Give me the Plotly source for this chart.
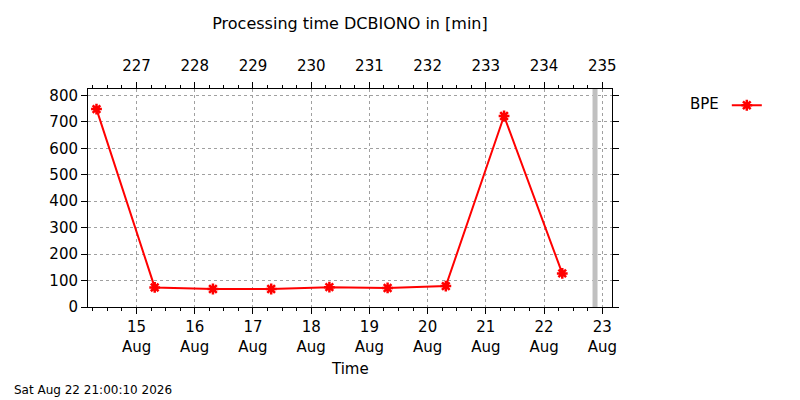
import pandas as pd
import plotly.graph_objects as go

# daily processing time of BPE, in minutes
run_times = ["2026-08-14 07:30", "2026-08-15 07:30", "2026-08-16 07:30",
             "2026-08-17 07:30", "2026-08-18 07:30", "2026-08-19 07:30",
             "2026-08-20 07:30", "2026-08-21 07:30", "2026-08-22 07:30"]
bpe_minutes = [748, 74, 68, 68, 75, 72, 79, 722, 127]

x_start = "2026-08-14 04:00"
x_end = "2026-08-23 04:00"
day_ticks = pd.date_range("2026-08-15", "2026-08-23", freq="D")
now_time = "2026-08-22 21:00:10"
stamp = "Sat Aug 22 21:00:10 2026"

FONT = "DejaVu Sans"
GRID = "#a0a0a0"

t = pd.to_datetime(run_times)
t0, t1 = pd.Timestamp(x_start), pd.Timestamp(x_end)


def doy(ts):
    return ts.dayofyear + (ts.hour * 60 + ts.minute) / 1440.0


fig = go.Figure()
fig.add_trace(go.Scatter(
    x=t, y=bpe_minutes, name=" ", mode="lines+markers",
    line=dict(color="#ff0000", width=2),
    marker=dict(symbol="asterisk-open", size=9, color="#ff0000",
                line=dict(color="#ff0000", width=2.5)),
))
# invisible twin so the day-of-year axis on top is drawn
fig.add_trace(go.Scatter(
    x=[doy(v) for v in t], y=bpe_minutes, xaxis="x2", mode="markers",
    marker=dict(opacity=0), showlegend=False, hoverinfo="skip",
))

fig.add_shape(type="line", xref="x", yref="paper",
              x0=now_time, x1=now_time, y0=0, y1=1,
              line=dict(color="#c0c0c0", width=5))

axis_common = dict(showline=True, linecolor="black", linewidth=1,
                   ticks="outside", tickcolor="black", ticklen=6,
                   tickfont=dict(family=FONT, size=15, color="black"),
                   zeroline=False)

fig.update_layout(
    width=800, height=400,
    margin=dict(l=88, r=188, t=89, b=93),
    paper_bgcolor="white", plot_bgcolor="white",
    font=dict(family=FONT, size=15, color="black"),
    title=dict(text="Processing time DCBIONO in [min]", x=0.5, xref="paper",
               y=1 - 23 / 400, yanchor="middle",
               font=dict(family=FONT, size=16, color="black")),
    xaxis=dict(axis_common, type="date", range=[t0, t1],
               tickvals=day_ticks, tickformat="%-d<br>%b",
               showgrid=True, gridcolor=GRID, griddash="3px,3px", gridwidth=1,
               minor=dict(ticks="outside", ticklen=3, tickcolor="black",
                          dtick=6 * 3600 * 1000, tick0="2026-08-15",
                          showgrid=False)),
    xaxis2=dict(axis_common, overlaying="x", side="top", anchor="y",
                range=[doy(t0), doy(t1)], dtick=1, tick0=227,
                showgrid=False, ticklabelstandoff=5,
                minor=dict(ticks="outside", ticklen=3, tickcolor="black",
                           dtick=0.25, showgrid=False)),
    yaxis=dict(axis_common, range=[0, 824], dtick=100, mirror="ticks",
               showgrid=True, gridcolor=GRID, griddash="3px,3px", gridwidth=1),
    legend=dict(x=1.145, xanchor="left", y=1.0, yanchor="top",
                bgcolor="rgba(0,0,0,0)",
                title=dict(text="BPE", side="left",
                           font=dict(family=FONT, size=15, color="black")),
                font=dict(family=FONT, size=15, color="black")),
    annotations=[
        dict(text="Time", xref="paper", yref="paper", x=0.5, y=-62 / 218,
             xanchor="center", yanchor="middle", showarrow=False,
             font=dict(family=FONT, size=15, color="black")),
        dict(text=stamp, xref="paper", yref="paper", x=-76 / 524, y=-83 / 218,
             xanchor="left", yanchor="middle", showarrow=False,
             font=dict(family=FONT, size=12, color="black")),
    ],
)

# the page body has a default 8px margin; drop it so the chart fills the window
fig.write_html("out.html", config={"displayModeBar": False},
               post_script="document.body.style.margin='0';")
